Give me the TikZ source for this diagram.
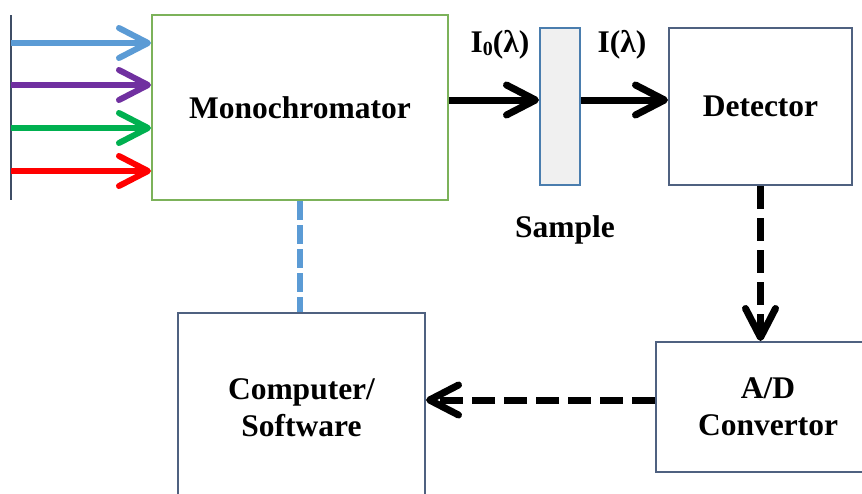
\documentclass[tikz,border=0pt]{standalone}
\usepackage{fontspec}
\setmainfont{Liberation Serif}
\usetikzlibrary{arrows.meta}
\definecolor{boxc}{HTML}{4F6180}
\definecolor{monoc}{HTML}{7CB25A}
\definecolor{samc}{HTML}{4A7DAE}
\definecolor{blu}{HTML}{5B9BD5}
\definecolor{pur}{HTML}{7030A0}
\definecolor{grn}{HTML}{00B050}
\definecolor{rd}{HTML}{FF0000}

\begin{document}
\begin{tikzpicture}[x=1pt,y=-1pt,
  box/.style={draw=boxc, line width=2pt, fill=white, inner sep=0pt, align=center,
    font=\fontsize{31.5}{37}\selectfont\bfseries},
  tip/.style={-{Straight Barb[length=29pt,width=30pt,round]}},
  ray/.style={tip, line width=6pt},
  beam/.style={tip, line width=7pt},
  link/.style={tip, line width=7pt, dash pattern=on 23pt off 9pt},
  lbl/.style={font=\fontsize{31.5}{37}\selectfont\bfseries}]
\clip (0,0) rectangle (862,493);
% blocks
\node[box, draw=monoc, minimum width=296, minimum height=185](mono) at (300,107.5){Monochromator};
\node[draw=samc, line width=2pt, fill=gray!12, minimum width=40, minimum height=157, inner sep=0pt](sample) at (560,106.5){};
\node[box, minimum width=183, minimum height=157](det) at (760.5,106.5){Detector};
\node[box, minimum width=247, minimum height=190](comp) at (301.5,408){Computer/\\Software};
\node[box, minimum width=224, minimum height=130](adc) at (768,407){A/D\\Convertor};
\node[lbl](samp) at (565,230){Sample};
\node[lbl](i0) at (500,45){I{\fontsize{20}{20}\selectfont\raisebox{-3pt}{0}}(λ)};
\node[lbl](i1) at (622,45){I(λ)};
% light in
\coordinate (top) at (11,15);
\coordinate (bot) at (11,200);
\draw[draw=boxc!80!black, line width=1.2pt] (top) -- (bot);
\coordinate (s1) at (11,43);
\coordinate (s2) at (11,85);
\coordinate (s3) at (11,128);
\coordinate (s4) at (11,171);
\draw[ray, blu] (s1) -- (s1 -| mono.west);
\draw[ray, pur] (s2) -- (s2 -| mono.west);
\draw[ray, grn] (s3) -- (s3 -| mono.west);
\draw[ray, rd] (s4) -- (s4 -| mono.west);
% beam
\draw[beam] (mono.east |- 0,100) -- (sample.west |- 0,100);
\draw[beam] (sample.east |- 0,100) -- (det.west |- 0,100);
% signal
\draw[blu, line width=6pt, dash pattern=on 19pt off 5pt] (mono.south) -- (mono.south |- comp.north);
\draw[link] (det.south) -- (det.south |- adc.north);
\draw[link] (adc.west |- 0,400) -- (comp.east |- 0,400);
\end{tikzpicture}
\end{document}
